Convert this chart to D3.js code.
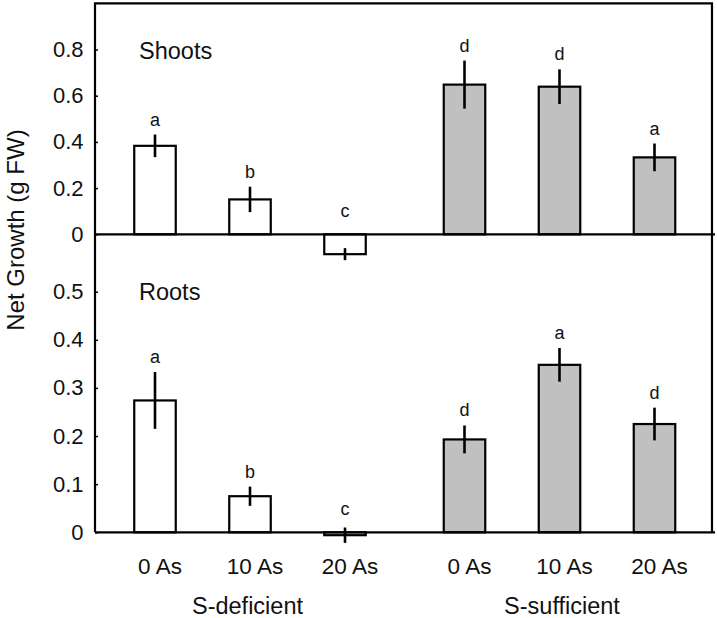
<!DOCTYPE html>
<html>
<head>
<meta charset="utf-8">
<script src="https://cdn.jsdelivr.net/npm/d3@7"></script>
<style>
  html, body { margin: 0; padding: 0; background: #fff; }
  svg { display: block; font-family: "Liberation Sans", Arial, sans-serif; }
</style>
</head>
<body>
<svg id="chart" width="717" height="618"></svg>
<script>
// ---- data ----
const groups = ["S-deficient", "S-sufficient"];
const doses = ["0 As", "10 As", "20 As"];
const shootValues = [0.383, 0.151, -0.086, 0.648, 0.639, 0.333];
const shootErrors = [0.049, 0.055, 0.026, 0.104, 0.075, 0.060];
const shootLetters = ["a", "b", "c", "d", "d", "a"];
const rootValues = [0.274, 0.075, -0.006, 0.193, 0.348, 0.225];
const rootErrors = [0.059, 0.020, 0.016, 0.029, 0.035, 0.034];
const rootLetters = ["a", "b", "c", "d", "a", "d"];
const shootTicks = [0, 0.2, 0.4, 0.6, 0.8];
const rootTicks = [0, 0.1, 0.2, 0.3, 0.4, 0.5];
const panelNames = ["Shoots", "Roots"];
const yTitle = "Net Growth (g FW)";
const groupFills = ["#ffffff", "#c0c0c0"];

// ---- layout ----
const svg = d3.select("#chart");
const L = 95, R = 712, T = 3.3;
const xGroup = d3.scalePoint().domain(groups).range([250, 559.5]);
const xDose = d3.scalePoint().domain(doses).range([-95, 95]);
const barW = 41.5;

const yShoot = d3.scaleLinear().domain([0, 1]).range([234.3, T]);
const yRoot = d3.scaleLinear().domain([0, 0.5]).range([532.3, 291.7]);

function rows(values, errors, letters) {
  const out = [];
  groups.forEach((g, gi) => doses.forEach((d, di) => {
    const i = gi * doses.length + di;
    out.push({ g, gi, d, v: values[i], e: errors[i], l: letters[i] });
  }));
  return out;
}
const cx = r => xGroup(r.g) + xDose(r.d);

function drawPanel(data, y, ticks, name, nameY) {
  const gp = svg.append("g");
  gp.selectAll("rect.bar").data(data).enter().append("rect")
    .attr("class", "bar")
    .attr("x", r => cx(r) - barW / 2)
    .attr("width", barW)
    .attr("y", r => Math.min(y(r.v), y(0)))
    .attr("height", r => Math.abs(y(r.v) - y(0)))
    .attr("fill", r => groupFills[r.gi])
    .attr("stroke", "#000")
    .attr("stroke-width", 2.2);
  gp.selectAll("line.err").data(data).enter().append("line")
    .attr("x1", cx).attr("x2", cx)
    .attr("y1", r => y(r.v + r.e))
    .attr("y2", r => y(r.v - r.e))
    .attr("stroke", "#000")
    .attr("stroke-width", 2.6);
  gp.selectAll("text.let").data(data).enter().append("text")
    .attr("x", cx)
    .attr("y", r => r.v >= 0 ? y(r.v + r.e) - 9 : y(0) - 17)
    .attr("text-anchor", "middle")
    .attr("font-size", 18)
    .attr("fill", "#111")
    .text(r => r.l);
  gp.append("line")
    .attr("x1", L).attr("x2", 715)
    .attr("y1", y(0)).attr("y2", y(0))
    .attr("stroke", "#000").attr("stroke-width", 2.2);
  const ax = d3.axisLeft(y).tickValues(ticks)
    .tickSize(-3).tickPadding(11.5)
    .tickFormat(d => d === 0 ? "0" : d3.format(".1f")(d));
  const ag = svg.append("g").attr("transform", `translate(${L},0)`).call(ax);
  ag.select(".domain").remove();
  ag.selectAll(".tick line").attr("stroke", "#000").attr("stroke-width", 1.5);
  ag.selectAll(".tick text").attr("font-size", 22).attr("fill", "#111")
    .attr("font-family", "Liberation Sans, Arial, sans-serif");
  svg.append("text")
    .attr("x", 139).attr("y", nameY)
    .attr("font-size", 23.5).attr("fill", "#111")
    .text(name);
}

drawPanel(rows(shootValues, shootErrors, shootLetters), yShoot, shootTicks, panelNames[0], 59);
drawPanel(rows(rootValues, rootErrors, rootLetters), yRoot, rootTicks, panelNames[1], 300);

// frame (left, top, right)
svg.append("path")
  .attr("d", `M${L},${yRoot(0)}V${T}H${R}V${yRoot(0)}`)
  .attr("fill", "none").attr("stroke", "#000").attr("stroke-width", 2.2);

// x category labels
const allRows = rows(rootValues, rootErrors, rootLetters);
svg.selectAll("text.xl").data(allRows).enter().append("text")
  .attr("x", r => cx(r) + 5)
  .attr("y", 574)
  .attr("text-anchor", "middle")
  .attr("font-size", 22.5).attr("fill", "#111")
  .text(r => r.d);
svg.selectAll("text.gl").data(groups).enter().append("text")
  .attr("x", (g, i) => xGroup(g) + (i === 0 ? -2.5 : 2.5))
  .attr("y", 614)
  .attr("text-anchor", "middle")
  .attr("font-size", 23.5).attr("fill", "#111")
  .text(g => g);

// y title
svg.append("text")
  .attr("transform", `translate(23.5,230) rotate(-90)`)
  .attr("text-anchor", "middle")
  .attr("font-size", 24).attr("fill", "#111")
  .text(yTitle);
</script>
</body>
</html>
